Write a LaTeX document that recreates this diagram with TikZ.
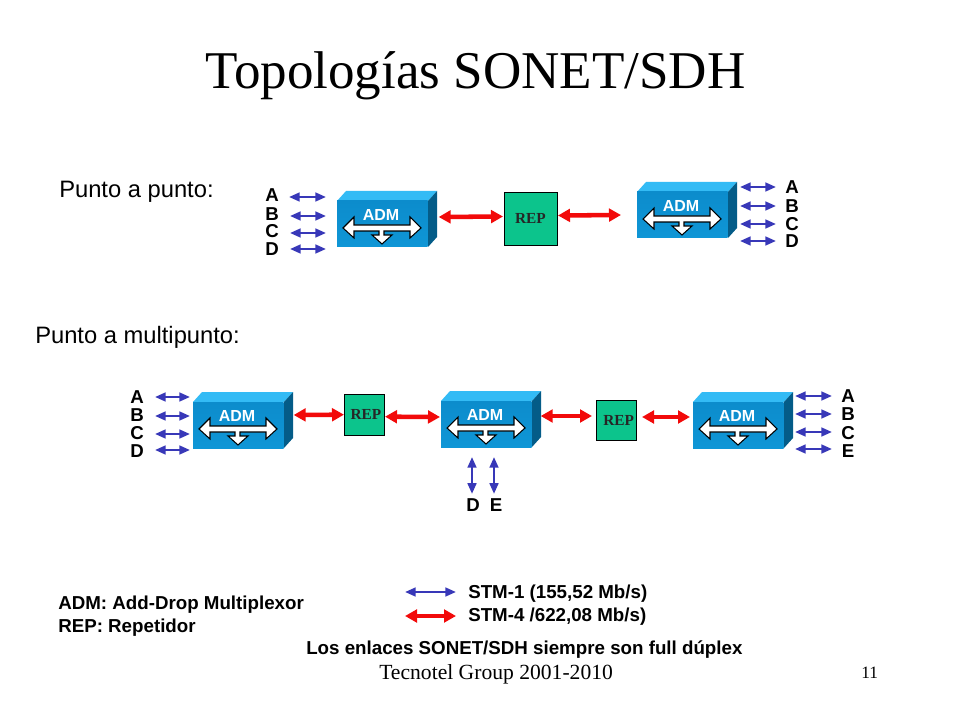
\documentclass[tikz,border=0pt]{standalone}
\usepackage{fontspec}
\setmainfont{Liberation Sans}
\newfontfamily\timesf{Liberation Serif}
\usetikzlibrary{arrows.meta}
\definecolor{admfront}{HTML}{0C8CCC}
\definecolor{admfrontb}{HTML}{0F96D6}
\definecolor{admtop}{HTML}{33BBF5}
\definecolor{admside}{HTML}{045C88}
\definecolor{repgreen}{HTML}{0CC48C}
\definecolor{linkblue}{HTML}{3838B8}
\definecolor{linkred}{HTML}{F20A0A}
\tikzset{
  admbox/.style={draw=none,top color=admfront,bottom color=admfrontb,minimum width=68pt,minimum height=34.5pt,inner sep=0pt,outer sep=0pt},
  repbox/.style={draw=black,line width=0.7pt,fill=repgreen,inner sep=0pt,outer sep=0pt,font=\timesf\bfseries\fontsize{11.5}{13}\selectfont,text=black!85},
  letter/.style={font=\bfseries\fontsize{14}{16}\selectfont,anchor=base,inner sep=0pt,text=black},
  stm/.style={linkblue,line width=1.8pt,{Triangle[length=8pt,width=6.5pt]}-{Triangle[length=8pt,width=6.5pt]}},
  stmfour/.style={linkred,line width=3.4pt,{Triangle[length=9pt,width=9.5pt]}-{Triangle[length=9pt,width=9.5pt]}},
  lbl/.style={anchor=base west,inner sep=0pt,text=black},
  boldlbl/.style={lbl,font=\bfseries\fontsize{14.05}{16}\selectfont},
  foot/.style={lbl,font=\timesf\fontsize{16.2}{18}\selectfont},
}
% #1 name, #2 x (front left), #3 y (front top)
\newcommand{\admunit}[3]{%
  \fill[admtop] (#2,#3) -- ++(9,-10) -- ++(91,0) -- ++(-9,10) -- cycle;
  \fill[admside] (#2+91,#3) -- ++(9,-10) -- ++(0,46) -- ++(-9,10) -- cycle;
  \node[admbox,anchor=north west] (#1) at (#2,#3) {};
  \begin{scope}[shift={(#2,#3)}]
    \draw[black,line width=0.8pt,fill=white,line join=miter]
      (6,27) -- (17,16) -- (17,24) -- (73,24) -- (73,16) -- (84,27) -- (73,37) -- (73,30)
      -- (47,30) -- (47,34) -- (55,34) -- (45,43) -- (35,34) -- (42,34) -- (42,30)
      -- (17,30) -- (17,37) -- cycle;
    \node[font=\bfseries\fontsize{12}{14}\selectfont,text=white,inner sep=0pt] at (44,14) {ADM};
  \end{scope}
}
\begin{document}
\begin{tikzpicture}[x=0.75pt,y=-0.75pt]
\useasboundingbox (0,0) rectangle (960,720);
\fill[white] (0,0) rectangle (960,720);

\node[lbl,font=\timesf\fontsize{39.8}{46}\selectfont] (title) at (205,88.5) {Topologías SONET/SDH};
\node[lbl,font=\fontsize{17.8}{20}\selectfont] (pp) at (59,198) {Punto a punto:};
\node[lbl,font=\fontsize{17.8}{20}\selectfont] (pm) at (35,343) {Punto a multipunto:};

% Units
\admunit{a1}{337}{201}
\admunit{a2}{637}{192}
\admunit{b1}{193}{402}
\admunit{b2}{441}{401}
\admunit{b3}{693}{402}

\node[repbox,minimum width=39.75pt,minimum height=39.75pt,anchor=north west] (r1) at (504,192) {REP};
\node[repbox,minimum width=30pt,minimum height=31pt,anchor=north west] (r2) at (344,394) {\hspace*{3pt}REP};
\node[repbox,minimum width=30pt,minimum height=30pt,anchor=north west] (r3) at (596,400) {\raisebox{-2pt}{\hspace*{4pt}REP}};

% Red links
\draw[stmfour] ([shift={(11,-7)}]a1.east) -- ([shift={(-1,-2)}]r1.west);
\draw[stmfour] ([shift={(1,-3)}]r1.east) -- ([shift={(-16,0)}]a2.west);
\draw[stmfour] ([shift={(10,-10)}]b1.east) -- ([shift={(0,0)}]r2.west);
\draw[stmfour] ([shift={(1,2)}]r2.east) -- ([shift={(-1,-7)}]b2.west);
\draw[stmfour] ([shift={(9,-8)}]b2.east) -- ([shift={(-4,-4)}]r3.west);
\draw[stmfour] ([shift={(6,-3)}]r3.east) -- ([shift={(-3,-8)}]b3.west);

% Letter groups
\foreach \n/\t/\x/\y/\ax/\bx/\ay in {
  la/A/272/202/289/326/197, lb/B/272/221/290/326/216, lc/C/272/238/290/326/233, ld/D/272/256/290/326/249,
  ra/A/792/194/740/776/187, rb/B/792/213/740/776/206, rc/C/792/231/740/776/224, rd/D/792/248/740/776/241,
  ma/A/137/403/155/190/397, mb/B/137/421/155/190/416, mc/C/137/439/155/190/434, md/D/137/457/155/190/450,
  na/A/848/402/795/832/396, nb/B/848/420/795/832/414, nc/C/848/439/795/832/432, ne/E/848/457/795/832/449}{
  \node[letter] (\n) at (\x,\y) {\t};
  \coordinate (\n p) at (\ax,\ay);
  \coordinate (\n q) at (\bx,\ay);
  \draw[stm] (\n p) -- (\n q);
}

% D E drops
\node[letter] (dd) at (473,511) {D};
\node[letter] (ee) at (496,511) {E};
\coordinate (ddtop) at (472,457);
\coordinate (eetop) at (494,457);
\draw[stm] (ddtop) -- ([shift={(-1,-4)}]dd.north);
\draw[stm] (eetop) -- ([shift={(-2,-4)}]ee.north);

% Legend
\coordinate (k1a) at (405,592); \coordinate (k1b) at (456,592);
\coordinate (k2a) at (405,616); \coordinate (k2b) at (456,616);
\draw[stm] (k1a) -- (k1b);
\draw[stmfour] (k2a) -- (k2b);
\node[boldlbl] (t1) at (468,598) {STM-1 (155,52 Mb/s)};
\node[boldlbl] (t2) at (468,621) {STM-4 /622,08 Mb/s)};
\node[boldlbl] (t3) at (58,609) {ADM: Add-Drop Multiplexor};
\node[boldlbl] (t4) at (58,632) {REP: Repetidor};
\node[boldlbl] (t5) at (306,654) {Los enlaces SONET/SDH siempre son full dúplex};

% Footer
\node[foot] (f1) at (379,679) {Tecnotel Group 2001-2010};
\node[foot,font=\timesf\fontsize{13}{15}\selectfont] (f2) at (861,678) {11};
\end{tikzpicture}
\end{document}
